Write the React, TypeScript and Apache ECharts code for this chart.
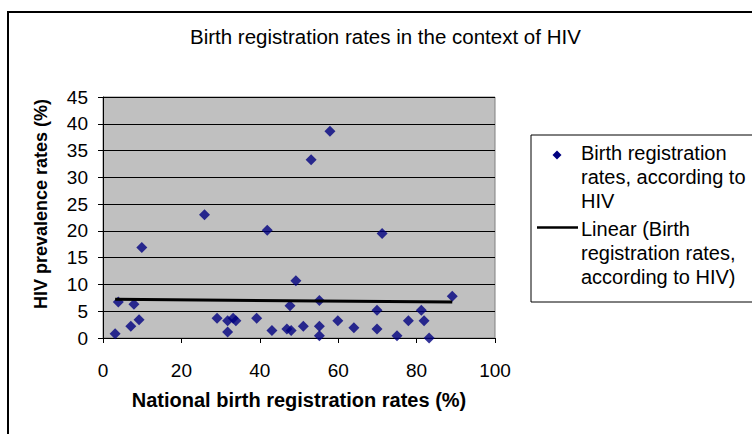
import React, { useEffect, useRef } from "react";
import * as echarts from "echarts";

const registrationRates = [
  3.1, 3.9, 7.1, 7.9, 9.2, 9.9, 25.9, 29.1, 31.8, 31.8, 33.2, 33.9, 39.2, 41.9,
  43.1, 46.9, 47.7, 48.0, 49.2, 51.1, 53.1, 55.2, 55.2, 55.2, 57.9, 59.9, 64.0,
  69.9, 69.9, 71.2, 75.0, 77.9, 81.2, 81.9, 83.2, 89.1,
];
const hivPrevalence = [
  0.8, 6.7, 2.2, 6.3, 3.4, 16.9, 23.0, 3.7, 1.1, 3.2, 3.7, 3.2, 3.7, 20.1, 1.4,
  1.7, 6.0, 1.4, 10.7, 2.2, 33.3, 7.0, 2.2, 0.4, 38.6, 3.2, 1.9, 5.2, 1.7, 19.5,
  0.4, 3.2, 5.2, 3.2, 0.0, 7.8,
];
const trendX = [3.1, 89.1];
const trendY = [7.25, 6.7];

const titleText = "Birth registration rates in the context of HIV";
const xAxisName = "National birth registration rates (%)";
const yAxisName = "HIV prevalence rates (%)";
const legendLines1 = ["Birth registration", "rates, according to", "HIV"];
const legendLines2 = ["Linear (Birth", "registration rates,", "according to HIV)"];

const FONT = "'Liberation Sans', Arial, Helvetica, sans-serif";

export default function App() {
  const ref = useRef<HTMLDivElement>(null);
  useEffect(() => {
    document.body.style.margin = "0";
    if (!ref.current) return;
    const chart = echarts.init(ref.current, undefined, { renderer: "svg" });
    const scatterData = registrationRates.map((x, i) => [x, hivPrevalence[i]]);
    const trendData = trendX.map((x, i) => [x, trendY[i]]);
    const legendTexts: any[] = [];
    const l1y = [152.5, 176.8, 201];
    const l2y = [229, 253, 277];
    legendLines1.forEach((t, i) =>
      legendTexts.push({
        type: "text",
        x: 581,
        y: l1y[i],
        style: { text: t, font: `20px ${FONT}`, fill: "#000", textVerticalAlign: "middle", textAlign: "left" },
      })
    );
    legendLines2.forEach((t, i) =>
      legendTexts.push({
        type: "text",
        x: 581,
        y: l2y[i],
        style: { text: t, font: `20px ${FONT}`, fill: "#000", textVerticalAlign: "middle", textAlign: "left" },
      })
    );
    chart.setOption({
      animation: false,
      backgroundColor: "#fff",
      title: {
        text: titleText,
        left: 190,
        top: 26,
        padding: 0,
        textStyle: { fontSize: 20.5, fontWeight: "normal", color: "#000", fontFamily: FONT },
      },
      grid: {
        left: 103,
        top: 97,
        width: 392,
        height: 241,
        show: true,
        backgroundColor: "#C0C0C0",
        borderColor: "#808080",
        borderWidth: 1,
      },
      xAxis: {
        type: "value",
        min: 0,
        max: 100,
        interval: 20,
        name: xAxisName,
        nameLocation: "middle",
        nameGap: 52,
        nameTextStyle: { fontSize: 20, fontWeight: "bold", color: "#000", fontFamily: FONT },
        axisLine: { show: true, onZero: false, lineStyle: { color: "#000", width: 1 } },
        axisTick: { show: true, inside: false, length: 5, lineStyle: { color: "#000" } },
        axisLabel: { margin: 23, fontSize: 19, color: "#000", fontFamily: FONT },
        splitLine: { show: false },
      },
      yAxis: {
        type: "value",
        min: 0,
        max: 45,
        interval: 5,
        axisLine: { show: true, onZero: false, lineStyle: { color: "#000", width: 1 } },
        axisTick: { show: true, inside: false, length: 5, lineStyle: { color: "#000" } },
        axisLabel: { margin: 15, fontSize: 19, color: "#000", fontFamily: FONT },
        splitLine: { show: true, lineStyle: { color: "#000", width: 1 } },
      },
      series: [
        {
          type: "scatter",
          name: "Birth registration rates, according to HIV",
          data: scatterData,
          symbol: "diamond",
          symbolSize: 11,
          itemStyle: { color: "#000080" },
          z: 2,
        },
        {
          type: "line",
          name: "Linear (Birth registration rates, according to HIV)",
          data: trendData,
          symbol: "none",
          lineStyle: { color: "#000", width: 3 },
          z: 3,
        },
      ],
      graphic: [
        {
          type: "rect",
          shape: { x: 8, y: 12, width: 800, height: 500 },
          style: { fill: "none", stroke: "#000", lineWidth: 2 },
          silent: true,
          z: 10,
        },
        {
          type: "text",
          x: 41,
          y: 204,
          rotation: Math.PI / 2,
          style: {
            text: yAxisName,
            font: `bold 18px ${FONT}`,
            fill: "#000",
            textAlign: "center",
            textVerticalAlign: "middle",
          },
        },
        {
          type: "rect",
          shape: { x: 531, y: 135, width: 260, height: 167 },
          style: { fill: "#fff", stroke: "#000", lineWidth: 1 },
        },
        {
          type: "polygon",
          shape: { points: [[557, 150.5], [561.5, 155], [557, 159.5], [552.5, 155]] },
          style: { fill: "#000080" },
        },
        {
          type: "line",
          shape: { x1: 537, y1: 227.5, x2: 578, y2: 227.5 },
          style: { stroke: "#000", lineWidth: 2.5 },
        },
        ...legendTexts,
      ],
    });
    return () => chart.dispose();
  }, []);
  return <div ref={ref} style={{ width: 752, height: 434 }} />;
}
